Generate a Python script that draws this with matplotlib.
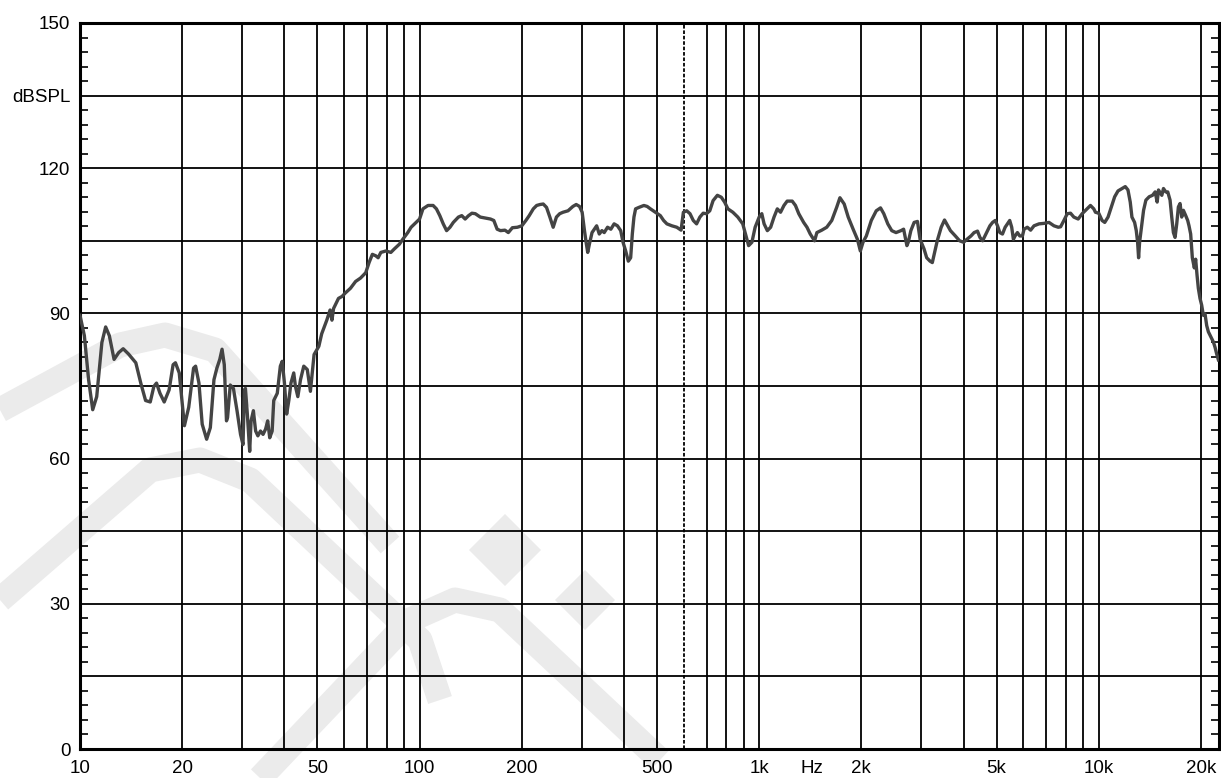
import numpy as np
import matplotlib
matplotlib.use('Agg')
from matplotlib import pyplot as plt
from matplotlib.lines import Line2D
from matplotlib.patches import Polygon
from matplotlib.ticker import FixedLocator, NullLocator

plt.rcParams['font.family'] = ['Liberation Sans', 'DejaVu Sans']

freq_hz = [
    10.0, 10.3, 10.6, 10.9, 11.2, 11.6, 11.9, 12.2, 12.6, 13.0,
    13.4, 13.9, 14.6, 15.1, 15.6, 16.1, 16.5, 16.8, 17.2, 17.7,
    18.3, 18.8, 19.1, 19.6, 20.0, 20.3, 20.9, 21.6, 21.9, 22.4,
    22.9, 23.6, 24.2, 24.8, 25.3, 25.8, 26.2, 26.6, 27.0, 27.2,
    27.7, 28.3, 29.0, 29.7, 30.2, 30.5, 30.7, 31.1, 31.6, 31.9,
    32.4, 32.9, 33.4, 34.0, 34.6, 35.2, 35.7, 36.2, 36.8, 37.2,
    38.1, 38.9, 39.4, 40.0, 40.6, 41.2, 41.8, 42.6, 43.1, 43.8,
    44.6, 45.6, 46.7, 47.7, 48.9, 50.5,
    51.5, 53.3, 54.5, 55.2, 55.8, 57.7, 59.1, 60.4, 62.6, 64.8,
    67.0, 69.4, 71.0, 72.6, 74.3, 75.5, 76.9, 79.6, 82.3, 84.2,
    87.2, 89.2, 92.3, 94.4, 97.7, 100, 102.3, 105.9, 109.6, 112.1,
    114.7, 117.4, 120.1, 122.9, 125.7, 130.1, 133.1, 136.2, 139.4, 142.6,
    145.9, 150.9, 156.2, 161.7, 165.4, 169.2, 173.1, 178.4, 182.5, 187.6,
    194.1, 200, 205.6, 210.3,
    216.2, 221.2, 226.3, 231.3, 236.5, 241.9, 247.4, 252.9, 258.6, 264.5,
    273.6, 282.8, 289.2, 295.8, 301.1, 305.9, 309.3, 312.7, 316.2, 322.0,
    327.1, 332.2, 338.2, 344.3, 349.7, 357.7, 365.8, 374.0, 382.5, 391.1,
    397.3, 404.5, 411.8, 418.4, 423.1, 427.8, 432.6, 442.4, 457.6, 467.9,
    478.4, 494.7, 511.6, 523.1, 534.9, 553.2, 572.0, 588.9, 598.2, 611.8,
    625.6, 639.7, 654.2, 669.0, 684.1, 699.4, 715.4, 731.6, 753.2, 773.6,
    791.1, 809.0, 836.6, 865.1, 894.7,
    931, 952, 973, 1000, 1018, 1034, 1057, 1081, 1106, 1131,
    1156, 1183, 1209, 1251, 1279, 1308, 1352, 1383, 1414, 1456,
    1479, 1529, 1581, 1636, 1691, 1729, 1780, 1829, 1891, 1947,
    1986, 2022, 2068, 2139, 2212, 2277, 2328, 2392, 2457, 2529,
    2616, 2663, 2723, 2748, 2797, 2860, 2925, 2978, 3059, 3114,
    3185, 3235, 3286, 3345, 3436, 3514, 3593, 3658, 3782, 3893,
    4000, 4090,
    4204, 4295, 4395, 4468, 4549, 4653, 4781, 4868, 4956, 5034,
    5113, 5206, 5301, 5384, 5468, 5542, 5606, 5669, 5761, 5854,
    5960, 6027, 6161, 6300, 6448, 6670, 6898, 7135, 7380, 7600,
    7722, 7896, 8077, 8259, 8446, 8697, 8936, 9242, 9453, 9668,
    9778, 10000, 10228, 10414, 10650, 10892, 11140, 11394, 11705, 11971,
    12191, 12381, 12523, 12752, 12897, 13014, 13102, 13191, 13341, 13552,
    13766, 14079, 14399, 14660, 14860, 14995, 15336, 15509, 15757, 15966,
    16219, 16403, 16589, 16777, 16968, 17160, 17355, 17551, 17750, 18035,
    18277, 18441, 18650, 18861, 19118, 19292, 19467, 19645, 19869, 20096,
    20325, 20556, 20790, 21027, 21266, 21508, 21753, 22001, 22252, 22506,
]
spl_db = [
    89.6, 85.4, 76.3, 70.1, 72.8, 84.0, 87.2, 85.4, 80.5, 81.9,
    82.7, 81.6, 79.8, 75.6, 72.0, 71.7, 74.9, 75.6, 73.5, 71.7,
    74.2, 79.4, 79.8, 77.7, 71.3, 66.8, 70.6, 78.7, 79.1, 75.6,
    67.1, 64.0, 66.4, 76.3, 78.7, 80.5, 82.6, 79.4, 67.8, 68.5,
    75.2, 74.5, 69.9, 65.0, 62.9, 74.2, 74.5, 69.2, 61.5, 67.8,
    69.9, 65.7, 64.7, 65.7, 65.0, 66.1, 67.8, 64.3, 65.7, 72.0,
    73.5, 79.1, 80.1, 75.6, 69.2, 72.0, 75.6, 77.7, 74.9, 72.8,
    76.3, 79.1, 78.4, 73.9, 81.5, 83.2,
    85.8, 88.6, 90.7, 88.6, 91.0, 93.1, 93.5, 94.2, 95.2, 96.6,
    97.3, 98.4, 100.5, 102.2, 101.9, 101.5, 102.6, 102.9, 102.6, 103.3,
    104.3, 105.3, 106.7, 107.8, 108.8, 109.5, 111.6, 112.3, 112.3, 111.6,
    110.2, 108.5, 107.1, 107.8, 108.8, 109.9, 110.2, 109.5, 110.2, 110.7,
    110.6, 109.9, 109.7, 109.5, 109.2, 107.4, 107.1, 107.2, 106.7, 107.7,
    107.8, 108.1, 109.2, 110.2,
    111.6, 112.3, 112.5, 112.6, 111.9, 109.9, 107.8, 109.9, 110.6, 110.9,
    111.2, 112.1, 112.5, 112.1, 110.9, 107.1, 104.7, 102.6, 104.3, 106.7,
    107.4, 108.1, 106.4, 107.1, 106.7, 107.8, 107.4, 108.5, 108.1, 107.1,
    104.7, 102.9, 100.8, 101.5, 106.4, 109.9, 111.6, 111.9, 112.3, 112.1,
    111.6, 110.9, 110.2, 109.2, 108.5, 108.1, 107.8, 107.2, 110.9, 111.2,
    110.6, 109.2, 108.5, 109.9, 110.7, 110.6, 111.2, 113.3, 114.4, 114.0,
    113.0, 111.6, 110.9, 109.9, 108.5,
    104.0, 104.7, 107.8, 109.9, 110.6, 108.5, 107.1, 107.8, 109.9, 111.6,
    110.9, 112.3, 113.2, 113.2, 112.3, 110.6, 108.8, 107.8, 106.4, 105.0,
    106.7, 107.2, 107.8, 109.2, 111.9, 113.9, 112.6, 109.9, 107.4, 105.3,
    102.9, 104.7, 106.0, 109.2, 111.2, 111.8, 110.6, 108.5, 107.1, 106.7,
    107.1, 107.4, 104.0, 104.7, 107.1, 108.8, 109.0, 105.3, 103.3, 101.5,
    100.8, 100.5, 102.6, 105.0, 107.8, 109.3, 108.1, 107.1, 106.0, 105.0,
    104.7, 105.3,
    106.0, 106.7, 107.0, 105.7, 105.0, 106.4, 108.1, 108.8, 109.2, 108.1,
    106.7, 106.4, 107.8, 108.5, 109.2, 107.8, 105.3, 106.0, 106.7, 106.0,
    106.0, 107.4, 107.8, 107.2, 108.1, 108.5, 108.6, 108.8, 108.1, 107.8,
    107.9, 109.2, 110.6, 110.7, 109.9, 109.5, 110.6, 111.6, 112.3, 111.6,
    110.9, 110.7, 109.2, 108.8, 109.9, 112.0, 114.1, 115.3, 115.8, 116.2,
    115.5, 113.0, 109.9, 108.8, 107.1, 104.7, 101.5, 104.7, 107.4, 111.3,
    113.4, 114.1, 114.4, 115.1, 113.0, 115.5, 114.4, 115.8, 115.1, 115.1,
    113.4, 109.9, 106.7, 105.7, 108.5, 112.0, 112.7, 109.9, 111.3, 110.2,
    109.2, 108.1, 106.4, 101.5, 99.4, 101.2, 98.0, 95.2, 93.1, 91.7,
    89.6, 89.9, 87.5, 86.2, 85.5, 84.8, 84.1, 83.0, 81.6, 80.4,
]

grid_freqs = [20, 30, 40, 50, 60, 70, 80, 90, 100, 200, 300, 400, 500, 600,
              700, 800, 900, 1000, 2000, 3000, 4000, 5000, 6000, 7000, 8000,
              9000, 10000, 20000]
dashed_freqs = [600]
x_tick_freqs = [10, 20, 50, 100, 200, 500, 1000, 1430, 2000, 5000, 10000, 20000]
x_tick_labels = ['10', '20', '50', '100', '200', '500', '1k', 'Hz', '2k',
                 '5k', '10k', '20k']
y_grid = list(range(0, 151, 15))
y_tick_labels = ['0', '', '30', '', '60', '', '90', '', '120', 'dBSPL', '150']

W, H = 1221, 778
fig = plt.figure(figsize=(W / 100, H / 100), dpi=100)
ax = fig.add_axes([80 / W, 29 / H, (1219 - 80) / W, (749 - 23) / H])
ax.set_facecolor('none')

# faint watermark behind the chart (pixel coords of the reference)
wm = '#ebebeb'
wm_paths = [
    [(0, 410), (120, 345), (165, 335), (215, 350), (390, 545)],
    [(0, 600), (150, 470), (200, 460), (250, 480), (420, 640), (440, 700)],
    [(260, 778), (410, 620), (455, 600), (500, 610), (660, 760)],
]
for path in wm_paths:
    xs = [p[0] / W for p in path]
    ys = [1 - p[1] / H for p in path]
    fig.add_artist(Line2D(xs, ys, color=wm, lw=18, solid_capstyle='butt',
                          solid_joinstyle='round', zorder=-5))
for cx, cy, r in [(505, 550, 36), (585, 600, 30)]:
    pts = [((cx) / W, 1 - (cy - r) / H), ((cx + r) / W, 1 - cy / H),
           (cx / W, 1 - (cy + r) / H), ((cx - r) / W, 1 - cy / H)]
    fig.add_artist(Polygon(pts, closed=True, facecolor=wm, edgecolor='none',
                           zorder=-5))

ax.set_xscale('log')
ax.set_xlim(10, 22600)
ax.set_ylim(0, 150)

for f in grid_freqs:
    if f in dashed_freqs:
        ax.axvline(f, color='black', lw=1.3, ls=(0, (2, 1)), zorder=1)
    else:
        ax.axvline(f, color='black', lw=1.3, zorder=1)
for y in y_grid[1:-1]:
    ax.axhline(y, color='black', lw=1.3, zorder=1)

ax.plot(freq_hz, spl_db, color='#444444', lw=2.4, zorder=3,
        solid_joinstyle='round')

ax.xaxis.set_major_locator(FixedLocator(x_tick_freqs))
ax.xaxis.set_minor_locator(NullLocator())
ax.set_xticklabels(x_tick_labels)
ax.tick_params(axis='x', which='both', length=0, pad=8, labelsize=13.5)

ax.yaxis.set_major_locator(FixedLocator(y_grid))
ax.yaxis.set_minor_locator(FixedLocator([v for v in range(0, 151, 3) if v % 15]))
ax.set_yticklabels(y_tick_labels)
ax.tick_params(axis='y', which='major', length=0, pad=7, labelsize=13.5)
ax.tick_params(axis='y', which='minor', direction='in', length=6, width=1.2,
               left=True, right=True)

for s in ax.spines.values():
    s.set_linewidth(2.2)
    s.set_color('black')

fig.savefig('out.png', dpi=100, facecolor='white')
